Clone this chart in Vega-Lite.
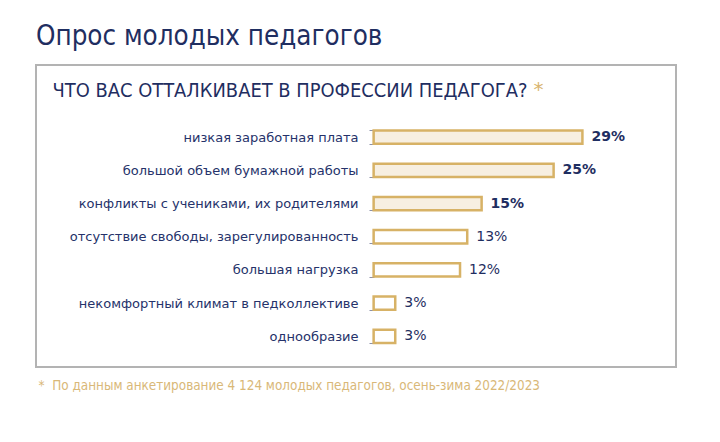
{
  "$schema": "https://vega.github.io/schema/vega-lite/v6.json",
  "width": 640,
  "height": 302,
  "autosize": {"type": "none"},
  "padding": {"left": 36, "top": 65, "right": 44, "bottom": 75},
  "background": "white",
  "title": {
    "text": "Опрос молодых педагогов",
    "anchor": "start",
    "frame": "group",
    "font": "DejaVu Sans Condensed",
    "fontSize": 27.5,
    "fontWeight": "normal",
    "color": "#1f2e61",
    "baseline": "alphabetic",
    "offset": -13
  },
  "config": {
    "view": {"stroke": "#b3b3b3", "strokeWidth": 2}
  },
  "data": {
    "values": [
      {"reason": "низкая заработная плата", "share": 0.29},
      {"reason": "большой объем бумажной работы", "share": 0.25},
      {"reason": "конфликты с учениками, их родителями", "share": 0.15},
      {"reason": "отсутствие свободы, зарегулированность", "share": 0.13},
      {"reason": "большая нагрузка", "share": 0.12},
      {"reason": "некомфортный климат в педколлективе", "share": 0.03},
      {"reason": "однообразие", "share": 0.03}
    ]
  },
  "encoding": {
    "y": {
      "field": "reason",
      "type": "nominal",
      "sort": null,
      "scale": {"paddingInner": 0.6, "paddingOuter": 0.3, "range": [55.5, 288]},
      "axis": {
        "orient": "left",
        "offset": -338,
        "domain": false,
        "tickBand": "extent",
        "tickColor": "#8c91a8",
        "tickSize": 5,
        "labelPadding": 11,
        "labelFont": "DejaVu Sans",
        "labelFontSize": 13,
        "labelColor": "#25326a",
        "labelLimit": 400,
        "title": "*",
        "titleColor": "#d9b46e",
        "titleFont": "DejaVu Sans",
        "titleFontSize": 20,
        "titleFontWeight": "normal",
        "titleAngle": 0,
        "titleAlign": "left",
        "titleBaseline": "middle",
        "titleX": 159,
        "titleY": 24
      }
    }
  },
  "resolve": {"axis": {"x": "independent"}},
  "layer": [
    {
      "mark": {"type": "bar", "stroke": "#d7b266", "strokeWidth": 2.5, "cornerRadius": 0},
      "encoding": {
        "x": {
          "field": "share",
          "type": "quantitative",
          "scale": {"domain": [-0.469, 0.42], "nice": false, "zero": false},
          "axis": {
            "orient": "bottom",
            "labels": false,
            "ticks": false,
            "domain": false,
            "grid": false,
            "title": "*\u00a0\u00a0По данным анкетирование 4 124 молодых педагогов, осень-зима 2022/2023",
            "titleColor": "#d9b878",
            "titleFont": "DejaVu Sans Condensed",
            "titleFontSize": 13.4,
            "titleFontWeight": "normal",
            "titleAlign": "left",
            "titleBaseline": "alphabetic",
            "titleX": 2,
            "titleY": 22
          }
        },
        "x2": {"datum": 0},
        "fill": {
          "condition": {"test": "datum.share >= 0.15", "value": "#f7efe1"},
          "value": "#ffffff"
        }
      }
    },
    {
      "transform": [{"filter": "datum.share >= 0.15"}],
      "mark": {"type": "text", "align": "left", "baseline": "middle", "dx": 9, "font": "DejaVu Sans", "fontSize": 14, "fontWeight": "bold", "color": "#1f2e61"},
      "encoding": {
        "x": {
          "field": "share",
          "type": "quantitative",
          "axis": {
            "orient": "top",
            "labels": false,
            "ticks": false,
            "domain": false,
            "grid": false,
            "title": "ЧТО ВАС ОТТАЛКИВАЕТ В ПРОФЕССИИ ПЕДАГОГА?",
            "titleColor": "#1f2e61",
            "titleFont": "DejaVu Sans Condensed",
            "titleFontSize": 19.9,
            "titleFontWeight": "normal",
            "titleAlign": "left",
            "titleBaseline": "alphabetic",
            "titleX": 16,
            "titleY": 31
          }
        },
        "text": {"field": "share", "type": "quantitative", "format": ".0%"}
      }
    },
    {
      "transform": [{"filter": "datum.share < 0.15"}],
      "mark": {"type": "text", "align": "left", "baseline": "middle", "dx": 9, "font": "DejaVu Sans", "fontSize": 14, "fontWeight": "normal", "color": "#1f2e61"},
      "encoding": {
        "x": {"field": "share", "type": "quantitative", "axis": null},
        "text": {"field": "share", "type": "quantitative", "format": ".0%"}
      }
    }
  ]
}
